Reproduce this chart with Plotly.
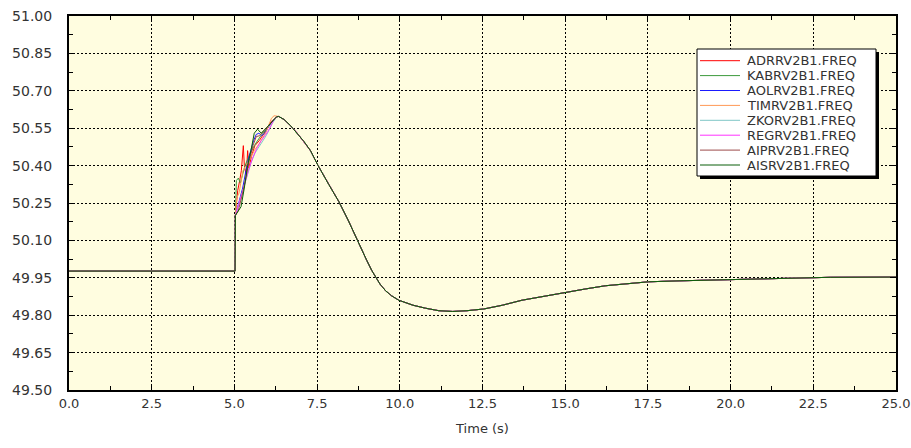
import plotly.graph_objects as go

# ---- data -------------------------------------------------------------
names = ["ADRRV2B1.FREQ", "KABRV2B1.FREQ", "AOLRV2B1.FREQ", "TIMRV2B1.FREQ",
         "ZKORV2B1.FREQ", "REGRV2B1.FREQ", "AIPRV2B1.FREQ", "AISRV2B1.FREQ"]
colors = ["#ff0000", "#3c9a3c", "#1a1aff", "#ff9955",
          "#7fc6c6", "#ff33ff", "#9c4a4a", "#0a5f0a"]

# steady state before the disturbance
pre_t = [0.0, 5.02]
pre_v = [49.977, 49.977]

# individual responses right after the event (t in s, f in Hz)
early_t = [
    [5.03, 5.10, 5.16, 5.21, 5.27, 5.30, 5.36, 5.40, 5.44, 5.52, 5.62, 5.75, 5.90, 6.10, 6.28],
    [5.03, 5.06, 5.12, 5.18, 5.24, 5.32, 5.45, 5.60, 5.80, 6.00, 6.20, 6.28],
    [5.03, 5.12, 5.25, 5.35, 5.45, 5.58, 5.66, 5.74, 5.82, 5.92, 6.06, 6.26],
    [5.03, 5.07, 5.14, 5.20, 5.26, 5.35, 5.45, 5.60, 5.76, 5.96, 6.12, 6.20, 6.28],
    [5.03, 5.12, 5.25, 5.38, 5.50, 5.62, 5.76, 5.96, 6.15, 6.28],
    [5.03, 5.15, 5.28, 5.42, 5.55, 5.68, 5.81, 6.01, 6.18, 6.28],
    [5.03, 5.12, 5.25, 5.36, 5.45, 5.56, 5.66, 5.76, 5.86, 6.05, 6.26],
    [5.03, 5.08, 5.20, 5.30, 5.40, 5.50, 5.60, 5.70, 5.81, 5.96, 6.15, 6.28],
]
early_v = [
    [50.20, 50.30, 50.34, 50.38, 50.48, 50.40, 50.36, 50.46, 50.39, 50.44, 50.48, 50.50, 50.53, 50.575, 50.596],
    [50.20, 50.34, 50.35, 50.33, 50.36, 50.40, 50.44, 50.48, 50.52, 50.55, 50.585, 50.596],
    [50.20, 50.25, 50.31, 50.38, 50.44, 50.50, 50.525, 50.53, 50.52, 50.53, 50.563, 50.596],
    [50.20, 50.27, 50.29, 50.33, 50.38, 50.40, 50.42, 50.46, 50.49, 50.535, 50.59, 50.600, 50.597],
    [50.20, 50.24, 50.30, 50.36, 50.41, 50.45, 50.48, 50.52, 50.57, 50.596],
    [50.20, 50.25, 50.31, 50.38, 50.43, 50.47, 50.50, 50.536, 50.58, 50.596],
    [50.20, 50.22, 50.29, 50.37, 50.42, 50.48, 50.516, 50.52, 50.535, 50.56, 50.595],
    [50.20, 50.21, 50.235, 50.31, 50.40, 50.46, 50.53, 50.546, 50.53, 50.55, 50.58, 50.596],
]

# common system frequency once all buses are coherent again
tail_t = [6.34, 6.5, 6.7, 6.9, 7.1, 7.3, 7.53, 7.85, 8.16, 8.45, 8.71, 9.0, 9.15,
          9.27, 9.4, 9.57, 9.75, 9.97, 10.4, 10.78, 11.18, 11.6, 12.03, 12.54, 13.1,
          13.69, 14.35, 15.0, 15.6, 16.21, 16.9, 17.52, 18.5, 19.54, 20.4, 21.24,
          22.1, 23.01, 25.0]
tail_v = [50.597, 50.585, 50.56, 50.53, 50.497, 50.46, 50.40, 50.325, 50.255,
          50.178, 50.10, 50.02, 49.98, 49.952, 49.925, 49.898, 49.878, 49.86,
          49.84, 49.828, 49.818, 49.815, 49.818, 49.825, 49.84, 49.86, 49.876,
          49.89, 49.905, 49.918, 49.927, 49.934, 49.938, 49.941, 49.944, 49.946,
          49.95, 49.952, 49.953]

x_ticks = [0.0, 2.5, 5.0, 7.5, 10.0, 12.5, 15.0, 17.5, 20.0, 22.5, 25.0]
y_ticks = [49.50, 49.65, 49.80, 49.95, 50.10, 50.25, 50.40, 50.55, 50.70, 50.85, 51.00]

# ---- figure -----------------------------------------------------------
W, H = 911, 448
ML, MR, MT, MB = 69, 15, 16, 58
PW, PH = W - ML - MR, H - MT - MB
TXT = "#333333"


def px_x(px):
    return (px - ML) / PW


def px_y(py):
    return (MT + PH - py) / PH


fig = go.Figure()
for name, col, et, ev in zip(names, colors, early_t, early_v):
    last = et[-1]
    tt = pre_t + et + [t for t in tail_t if t > last]
    vv = pre_v + ev + [v for t, v in zip(tail_t, tail_v) if t > last]
    fig.add_trace(go.Scatter(x=tt, y=vv, mode="lines", name=name,
                             line=dict(color=col, width=1), showlegend=False))

grid = dict(showgrid=True, gridcolor="black", gridwidth=1, griddash="2px,2px")
frame = dict(showline=True, linecolor="black", linewidth=2, mirror="ticks",
             ticks="inside", ticklen=6, tickcolor="black", tickwidth=1,
             zeroline=False, ticklabeloverflow="allow", automargin=False)

fig.update_layout(
    width=W, height=H,
    margin=dict(l=ML, r=MR, t=MT, b=MB),
    paper_bgcolor="white",
    plot_bgcolor="#fffde0",
    font=dict(family="DejaVu Sans", color=TXT),
)
fig.update_xaxes(
    range=[0, 25], tickvals=x_ticks, ticktext=[f"{v:.1f}" for v in x_ticks],
    tickfont=dict(family="DejaVu Sans", size=13, color=TXT),
    minor=dict(dtick=1.25, tick0=0, ticks="inside", ticklen=4, tickcolor="black", showgrid=False),
    title=dict(text="Time (s)", font=dict(family="DejaVu Sans", size=13, color=TXT), standoff=14),
    **grid, **frame,
)
fig.update_yaxes(
    range=[49.5, 51.0], tickvals=y_ticks, ticktext=[f"{v:.2f}" for v in y_ticks],
    tickfont=dict(family="DejaVu Sans", size=14, color=TXT),
    minor=dict(dtick=0.075, tick0=49.5, ticks="inside", ticklen=4, tickcolor="black", showgrid=False),
    ticklabelstandoff=12,
    **grid, **frame,
)

# ---- legend box with drop shadow --------------------------------------
bx0, by0, bx1, by1 = 697, 49, 876, 176
fig.add_shape(type="rect", xref="paper", yref="paper",
              x0=px_x(bx0 + 3), x1=px_x(bx1 + 3), y0=px_y(by1 + 3), y1=px_y(by0 + 3),
              fillcolor="black", line=dict(width=0), layer="above")
fig.add_shape(type="rect", xref="paper", yref="paper",
              x0=px_x(bx0), x1=px_x(bx1), y0=px_y(by1), y1=px_y(by0),
              fillcolor="white", line=dict(color="black", width=1), layer="above")
for i, (name, col) in enumerate(zip(names, colors)):
    ry = 60.7 + i * 14.9
    fig.add_shape(type="line", xref="paper", yref="paper",
                  x0=px_x(700), x1=px_x(740), y0=px_y(ry), y1=px_y(ry),
                  line=dict(color=col, width=1), layer="above")
    fig.add_annotation(xref="paper", yref="paper", x=px_x(745), y=px_y(ry),
                       text=name, showarrow=False, xanchor="left", yanchor="middle",
                       font=dict(family="DejaVu Sans", size=13, color=TXT))

fig.write_html("out.html")
